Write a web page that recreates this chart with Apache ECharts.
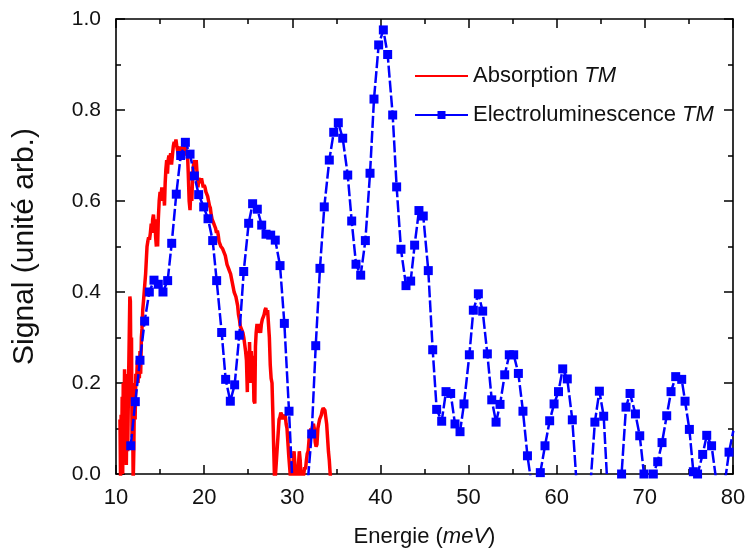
<!DOCTYPE html>
<html>
<head>
<meta charset="utf-8">
<script src="https://cdn.jsdelivr.net/npm/echarts@6/dist/echarts.min.js"></script>
<style>
html,body{margin:0;padding:0;background:#fff;}
#c{width:747px;height:552px;}
</style>
</head>
<body>
<div id="c"></div>
<script>
// Tick labels
var xTicks = [10, 20, 30, 40, 50, 60, 70, 80];
var yTicks = [0.0, 0.2, 0.4, 0.6, 0.8, 1.0];

// Series names
var seriesNames = ['Absorption TM', 'Electroluminescence TM'];

// Absorption TM (energy meV, signal)
var absEnergy = [10.45,10.52,10.58,10.64,10.7,10.76,10.82,10.9,10.97,11.03,11.1,11.17,11.25,11.33,11.42,11.5,11.57,11.63,11.7,11.76,11.82,11.88,11.95,12.02,12.1,12.17,12.25,12.33,12.42,12.5,12.57,12.65,12.72,12.8,12.88,12.95,13.03,13.12,13.2,13.28,13.36,13.44,13.52,13.6,13.7,13.8,13.9,14.0,14.08,14.16,14.25,14.33,14.42,14.5,14.58,14.65,14.72,14.8,14.9,15.0,15.1,15.2,15.3,15.4,15.5,15.58,15.66,15.75,15.84,15.92,16.0,16.1,16.2,16.3,16.4,16.5,16.6,16.7,16.8,16.9,17.0,17.1,17.2,17.3,17.4,17.5,17.6,17.7,17.8,17.9,18.0,18.1,18.2,18.3,18.4,18.5,18.6,18.7,18.8,18.9,19.0,19.1,19.2,19.3,19.4,19.5,19.6,19.7,19.8,19.9,20.0,20.1,20.2,20.3,20.4,20.5,20.6,20.7,20.8,20.9,21.0,21.1,21.2,21.3,21.4,21.5,21.6,21.7,21.8,21.9,22.0,22.1,22.2,22.3,22.4,22.5,22.6,22.7,22.8,22.9,23.0,23.1,23.2,23.3,23.4,23.5,23.6,23.7,23.8,23.9,24.0,24.1,24.2,24.3,24.4,24.5,24.6,24.7,24.8,24.9,24.95,25.0,25.05,25.1,25.15,25.2,25.3,25.35,25.45,25.55,25.65,25.75,25.82,25.9,26.0,26.1,26.2,26.3,26.4,26.5,26.6,26.7,26.8,26.9,27.0,27.1,27.2,27.3,27.4,27.5,27.6,27.7,27.8,27.9,28.0,28.1,28.2,28.3,28.4,28.5,28.6,28.7,28.8,28.9,29.0,29.1,29.2,29.3,29.4,29.5,29.6,29.7,29.8,29.9,30.0,30.1,30.2,30.3,30.4,30.5,30.6,30.7,30.8,30.9,31.0,31.1,31.2,31.3,31.4,31.5,31.6,31.7,31.8,31.9,32.0,32.1,32.2,32.3,32.4,32.5,32.6,32.7,32.8,32.9,33.0,33.1,33.2,33.3,33.4,33.5,33.6,33.7,33.8,33.9,34.0,34.1,34.2,34.3,34.4];
var absSignal = [0.12,-0.02,0.13,0.03,0.17,0.0,0.2,0.08,0.23,0.1,0.22,0.02,0.15,0.05,0.2,0.3,0.39,0.38,0.2,0.3,0.08,0.15,-0.02,0.05,0.2,0.12,0.22,0.2,0.25,0.2,0.24,0.21,0.27,0.22,0.3,0.32,0.36,0.38,0.4,0.42,0.44,0.47,0.5,0.51,0.52,0.515,0.53,0.55,0.53,0.56,0.57,0.55,0.56,0.52,0.5,0.54,0.5,0.56,0.6,0.62,0.61,0.63,0.6,0.62,0.59,0.64,0.67,0.69,0.66,0.69,0.7,0.69,0.705,0.68,0.7,0.72,0.73,0.72,0.735,0.72,0.71,0.7,0.72,0.69,0.71,0.7,0.72,0.7,0.71,0.72,0.7,0.71,0.66,0.6,0.58,0.63,0.6,0.66,0.68,0.69,0.67,0.69,0.66,0.63,0.65,0.645,0.64,0.65,0.64,0.63,0.635,0.63,0.62,0.615,0.61,0.6,0.59,0.585,0.57,0.56,0.555,0.55,0.545,0.54,0.53,0.535,0.525,0.51,0.505,0.5,0.5,0.495,0.49,0.49,0.48,0.47,0.46,0.455,0.45,0.445,0.44,0.43,0.42,0.41,0.4,0.395,0.39,0.38,0.37,0.35,0.34,0.325,0.32,0.315,0.31,0.3,0.3,0.27,0.25,0.18,0.26,0.2,0.27,0.22,0.29,0.25,0.2,0.27,0.22,0.26,0.16,0.155,0.28,0.31,0.33,0.31,0.33,0.32,0.31,0.33,0.34,0.345,0.35,0.36,0.365,0.35,0.36,0.33,0.3,0.24,0.21,0.2,0.13,0.05,-0.02,0.0,0.03,0.06,0.09,0.12,0.125,0.135,0.13,0.12,0.13,0.125,0.13,0.11,0.1,0.07,0.04,0.015,-0.01,0.0,-0.01,0.03,0.05,0.02,-0.01,0.0,-0.01,0.02,0.05,0.03,-0.01,0.0,-0.01,0.0,0.015,0.01,0.03,0.045,0.05,0.075,0.09,0.1,0.095,0.105,0.11,0.1,0.07,0.06,0.065,0.1,0.11,0.12,0.125,0.13,0.14,0.145,0.148,0.14,0.125,0.11,0.08,0.05,0.03,0.0,-0.02];

// Electroluminescence TM (energy meV, signal); negative values lie below the axis and are hidden
var elEnergy = [11.67,12.19,12.72,13.25,13.78,14.31,14.8,15.33,15.86,16.32,16.84,17.34,17.87,18.4,18.89,19.38,19.95,20.44,20.97,21.42,21.99,22.44,22.97,23.46,23.99,24.49,25.05,25.5,26.03,26.53,27.02,27.55,28.07,28.61,29.1,29.63,30.15,30.67,31.2,31.7,32.2,32.66,33.14,33.63,34.2,34.7,35.22,35.72,36.29,36.74,37.23,37.76,38.29,38.82,39.27,39.8,40.33,40.82,41.39,41.84,42.33,42.9,43.43,43.88,44.37,44.86,45.43,45.93,46.38,46.95,47.44,47.97,48.46,49.03,49.48,50.09,50.54,51.11,51.6,52.13,52.63,53.12,53.57,54.1,54.62,55.12,55.65,56.17,56.68,57.15,57.65,58.14,58.67,59.2,59.7,60.2,60.68,61.2,61.77,62.25,62.75,63.3,63.8,64.33,64.84,65.33,65.82,66.32,66.85,67.36,67.86,68.32,68.93,69.42,69.9,70.43,70.96,71.46,71.95,72.48,72.97,73.5,74.18,74.56,75.05,75.5,75.98,76.56,77.02,77.57,78.07,78.56,79.06,79.55,80.04];
var elSignal = [0.062,0.159,0.25,0.336,0.40,0.426,0.417,0.40,0.425,0.507,0.615,0.70,0.729,0.703,0.655,0.614,0.587,0.561,0.513,0.425,0.311,0.208,0.16,0.196,0.305,0.445,0.551,0.594,0.582,0.547,0.527,0.525,0.514,0.458,0.331,0.138,-0.073,-0.12,-0.1,-0.03,0.088,0.282,0.452,0.587,0.69,0.751,0.772,0.738,0.657,0.556,0.461,0.437,0.513,0.661,0.824,0.943,0.976,0.922,0.789,0.631,0.494,0.414,0.424,0.503,0.579,0.567,0.447,0.273,0.142,0.116,0.181,0.177,0.11,0.093,0.154,0.262,0.36,0.396,0.358,0.264,0.163,0.114,0.153,0.218,0.262,0.262,0.221,0.138,0.04,-0.023,-0.03,0.003,0.062,0.117,0.154,0.181,0.231,0.209,0.119,-0.02,-0.1,-0.1,-0.03,0.114,0.182,0.127,-0.05,-0.08,-0.03,0.0,0.147,0.177,0.132,0.084,0.0,-0.03,0.0,0.027,0.069,0.128,0.181,0.214,0.208,0.16,0.098,0.005,0.0,0.043,0.085,0.062,-0.01,-0.08,-0.02,0.048,0.095];

function pairs(xs, ys){ var out=[]; for(var i=0;i<xs.length;i++){ out.push([xs[i], ys[i]]); } return out; }

var FONT = '"Liberation Sans", Arial, sans-serif';
var chart = echarts.init(document.getElementById('c'), null, {renderer:'canvas'});

var axisLineStyle = {color:'#000', width:1.6};
function xAxisCfg(pos, labels){
  return {
    type:'value', position:pos, min:xTicks[0], max:xTicks[xTicks.length-1], interval:10,
    axisLine:{show:true, onZero:false, lineStyle:axisLineStyle},
    axisTick:{show:true, inside:true, length:9, lineStyle:{color:'#000', width:1.5}},
    minorTick:{show:true, splitNumber:2, length:5, lineStyle:{color:'#000', width:1.5}},
    splitLine:{show:false},
    axisLabel:{show:labels, fontSize:22, color:'#111', fontFamily:FONT, margin:13},
    name: labels ? 'Energie ({i|meV})' : '',
    nameLocation:'middle', nameGap:52,
    nameTextStyle:{fontSize:22, color:'#111', fontFamily:FONT,
      rich:{i:{fontSize:22, fontStyle:'italic', color:'#111', fontFamily:FONT}}}
  };
}
function yAxisCfg(pos, labels){
  return {
    type:'value', position:pos, min:yTicks[0], max:yTicks[yTicks.length-1], interval:0.2,
    axisLine:{show:true, onZero:false, lineStyle:axisLineStyle},
    axisTick:{show:true, inside:true, length:9, lineStyle:{color:'#000', width:1.5}},
    minorTick:{show:true, splitNumber:2, length:5, lineStyle:{color:'#000', width:1.5}},
    splitLine:{show:false},
    axisLabel:{show:labels, fontSize:21, color:'#111', fontFamily:FONT, margin:15,
      formatter:function(v){ return v.toFixed(1); }},
    name: labels ? 'Signal (unité arb.)' : '',
    nameLocation:'middle', nameGap:76, nameRotate:90,
    nameTextStyle:{fontSize:30, color:'#111', fontFamily:FONT}
  };
}

chart.setOption({
  animation:false,
  backgroundColor:'#fff',
  grid:{left:116, right:14, top:19, bottom:78, containLabel:false, outerBoundsMode:'none'},
  legend:{
    show:true, orient:'vertical', left:409, top:59,
    itemWidth:53, itemHeight:10, itemGap:15,
    data:[
      {name:seriesNames[0], itemStyle:{opacity:0}},
      {name:seriesNames[1], lineStyle:{type:'solid'}}
    ],
    textStyle:{fontSize:22, color:'#111', fontFamily:FONT, lineHeight:24,
      rich:{i:{fontSize:22, fontStyle:'italic', color:'#111', fontFamily:FONT, lineHeight:24}}},
    formatter:function(name){ return name.replace(/ TM$/, ' {i|TM}'); }
  },
  xAxis:[xAxisCfg('bottom', true), xAxisCfg('top', false)],
  yAxis:[yAxisCfg('left', true), yAxisCfg('right', false)],
  series:[
    {
      name:seriesNames[0], type:'line', xAxisIndex:0, yAxisIndex:0,
      data:pairs(absEnergy, absSignal), showSymbol:false, symbol:'none',
      lineStyle:{color:'#ff0000', width:3.5}, itemStyle:{color:'#ff0000'},
      clip:true, z:2
    },
    {
      name:seriesNames[1], type:'line', xAxisIndex:0, yAxisIndex:0,
      data:pairs(elEnergy, elSignal), symbol:'rect', symbolSize:9, showSymbol:true,
      lineStyle:{color:'#0000ff', width:2.5, type:[12,3]}, itemStyle:{color:'#0000ff'},
      clip:true, z:3
    }
  ]
});
</script>
</body>
</html>
